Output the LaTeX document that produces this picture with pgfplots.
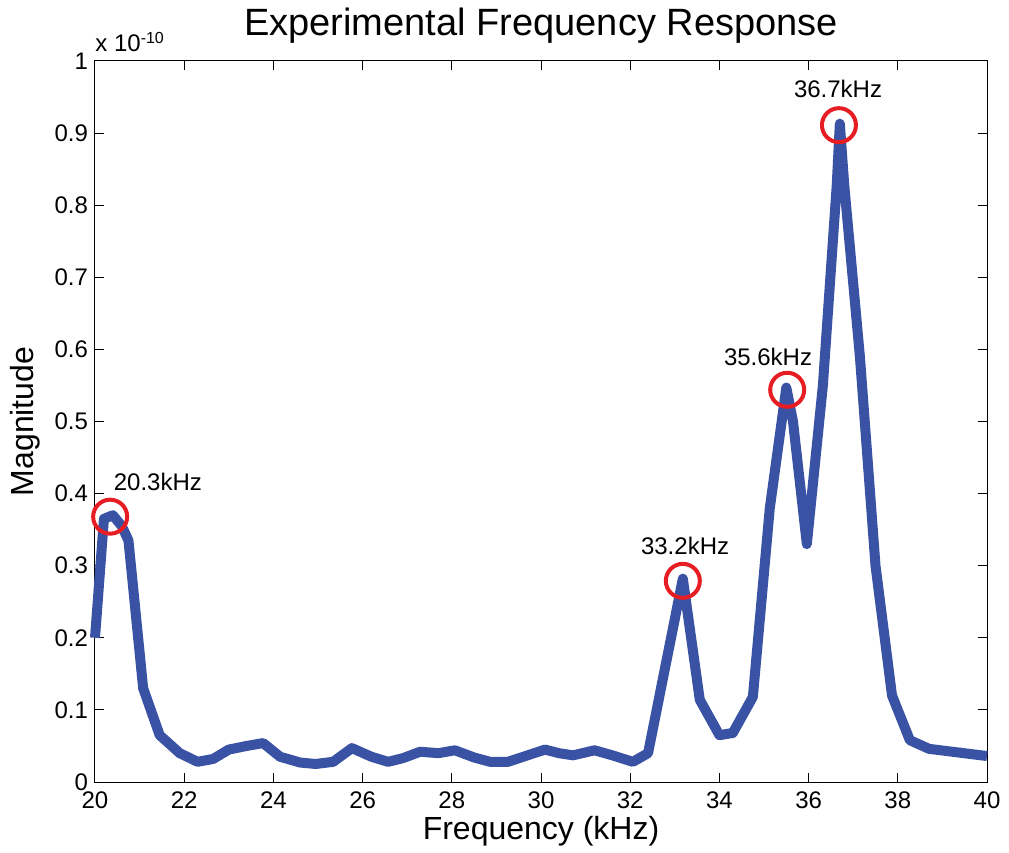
\documentclass[border=0pt]{standalone}
\usepackage{pgfplots}
\pgfplotsset{compat=1.18}
\usepackage{fontspec}
\setmainfont{Liberation Sans}
\definecolor{lineblue}{RGB}{58,82,164}
\definecolor{circred}{RGB}{230,30,35}

\begin{document}
\begin{tikzpicture}
\begin{axis}[
    scale only axis,
    width=446pt, height=360.5pt,
    xmin=20, xmax=40,
    ymin=0, ymax=1,
    xtick={20,22,...,40},
    ytick={0,0.1,...,1},
    tick align=inside,
    tick pos=both,
    major tick length=4.5pt,
    axis line style={line width=0.5pt},
    every tick/.style={black, line width=0.5pt},
    scaled ticks=false,
    /pgf/number format/assume math mode=true,
    yticklabel style={/pgf/number format/fixed, /pgf/number format/precision=1, font=\fontsize{12}{14}\selectfont},
    xticklabel style={font=\fontsize{12}{14}\selectfont, anchor=base, yshift=-13pt},
    xlabel={Frequency (kHz)},
    ylabel={Magnitude},
    xlabel style={font=\fontsize{16}{18}\selectfont, at={(axis description cs:0.5,-0.0804)}, anchor=base},
    ylabel style={font=\fontsize{16}{18}\selectfont, at={(axis description cs:-0.0695,0.5)}, anchor=base},
    title={Experimental Frequency Response},
    title style={font=\fontsize{19}{21}\selectfont, at={(axis description cs:0.5,1.0194)}, anchor=base},
    clip=false,
]
\addplot[color=lineblue, line width=5pt, line join=round] coordinates {
    (20.0,0.20) (20.2,0.365) (20.4,0.37) (20.6,0.355) (20.75,0.335)
    (21.08,0.13) (21.45,0.065) (21.9,0.040) (22.3,0.028) (22.65,0.032)
    (23.0,0.045) (23.4,0.050) (23.77,0.054) (24.15,0.035) (24.6,0.027)
    (24.95,0.025) (25.34,0.028) (25.76,0.047) (26.2,0.035) (26.57,0.028)
    (26.9,0.033) (27.29,0.042) (27.7,0.040) (28.07,0.044) (28.5,0.034)
    (28.86,0.028) (29.26,0.028) (29.7,0.037) (30.09,0.045) (30.4,0.040)
    (30.72,0.037) (31.2,0.044) (31.6,0.037) (32.06,0.028) (32.4,0.040)
    (33.18,0.282) (33.56,0.114) (34.0,0.065) (34.3,0.068) (34.75,0.118)
    (35.13,0.38) (35.5,0.547) (35.65,0.50) (35.96,0.33) (36.32,0.55)
    (36.63,0.827) (36.7,0.913) (36.8,0.827) (37.15,0.59) (37.5,0.30)
    (37.87,0.12) (38.27,0.058) (38.7,0.046) (40,0.036)
};
\addplot[only marks, mark=o, mark size=8.5pt, color=circred, mark options={line width=2pt}] coordinates {
    (20.34,0.368) (33.18,0.279) (35.52,0.544) (36.68,0.911)
};
\node[font=\fontsize{12}{14}\selectfont] at (axis cs:21.41,0.416) {20.3kHz};
\node[font=\fontsize{12}{14}\selectfont] at (axis cs:33.23,0.327) {33.2kHz};
\node[font=\fontsize{12}{14}\selectfont] at (axis cs:35.09,0.589) {35.6kHz};
\node[font=\fontsize{12}{14}\selectfont] at (axis cs:36.66,0.961) {36.7kHz};
\node[anchor=base west, font=\fontsize{12}{14}\selectfont, inner sep=0pt] at (axis description cs:0,1.0125) {x 10\textsuperscript{-10}};
\end{axis}
\pgfresetboundingbox
\useasboundingbox ([shift={(-47.5pt,-35pt)}]current axis.south west) rectangle ([shift={(11pt,30.5pt)}]current axis.north east);
\end{tikzpicture}
\end{document}
